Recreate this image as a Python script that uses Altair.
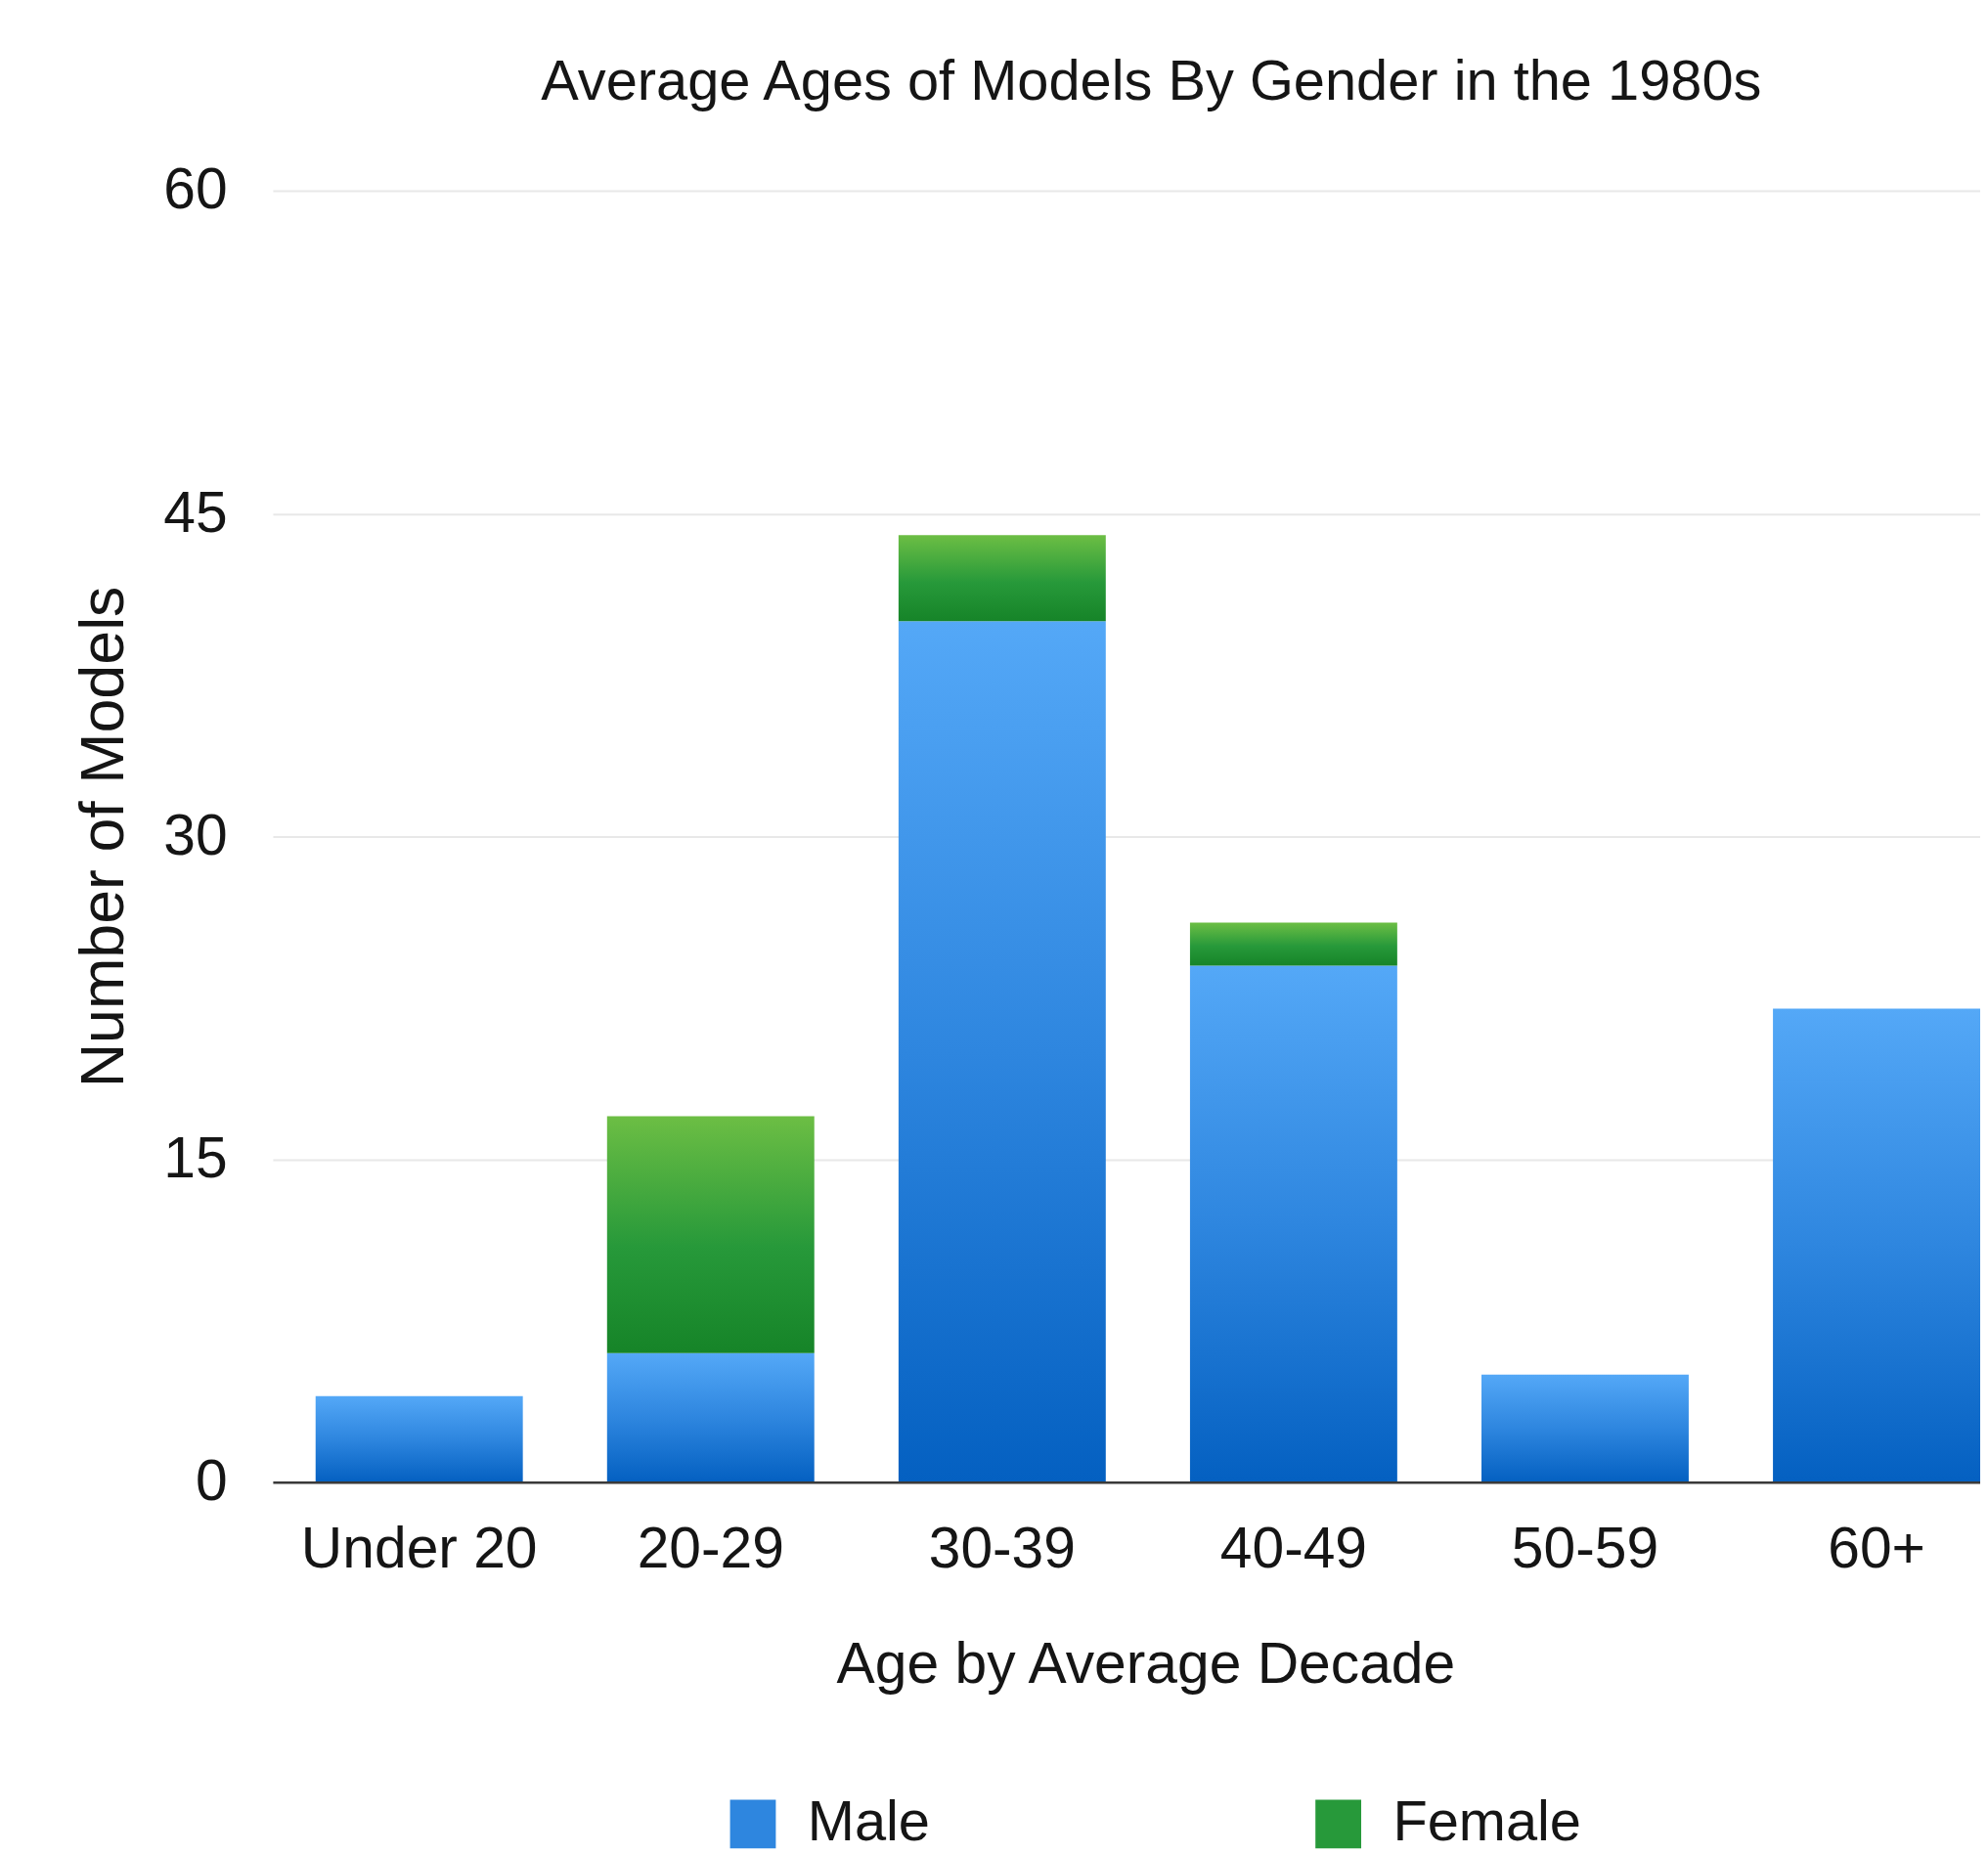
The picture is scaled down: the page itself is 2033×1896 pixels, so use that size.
import altair as alt
import pandas as pd

categories = ["Under 20", "20-29", "30-39", "40-49", "50-59", "60+"]
male = [4, 6, 40, 24, 5, 22]
female = [0, 11, 4, 2, 0, 0]
genders = ["Male", "Female"]
y_ticks = [0, 15, 30, 45, 60]

rows = []
for c, m, f in zip(categories, male, female):
    rows.append({"age": c, "gender": "Male", "start": 0, "end": m})
    rows.append({"age": c, "gender": "Female", "start": m, "end": m + f})
df = pd.DataFrame(rows)

FONT = "Liberation Sans"
TXT = "#151515"

blue_grad = {
    "gradient": "linear", "x1": 0, "x2": 0, "y1": 0, "y2": 1,
    "stops": [
        {"offset": 0, "color": "#54a8f7"},
        {"offset": 0.5, "color": "#2e86df"},
        {"offset": 1, "color": "#0460c1"},
    ],
}
green_grad = {
    "gradient": "linear", "x1": 0, "x2": 0, "y1": 0, "y2": 1,
    "stops": [
        {"offset": 0, "color": "#6cbe44"},
        {"offset": 0.55, "color": "#27993a"},
        {"offset": 1, "color": "#168428"},
    ],
}

x_enc = alt.X(
    "age:N", sort=categories,
    scale=alt.Scale(paddingInner=0.289, paddingOuter=0.0735, align=1),
    axis=alt.Axis(title="Age by Average Decade", labelAngle=0, labelPadding=40,
                  labelLimit=500, titlePadding=60, titleX=896, titleAlign="center",
                  domain=True, domainColor="#3a3a3a",
                  domainWidth=2.5, ticks=False, grid=False, zindex=1),
)
y_enc = alt.Y(
    "end:Q", scale=alt.Scale(domain=[0, 60], nice=False),
    axis=alt.Axis(title="Number of Models", values=y_ticks, labelPadding=47,
                  titlePadding=28, titleFontSize=63, domain=False, ticks=False,
                  grid=True, gridColor="#e8e8e8", gridWidth=2),
)

base = alt.Chart(df)

male_bars = base.transform_filter(alt.datum.gender == "Male").mark_bar(
    fill=blue_grad
).encode(x=x_enc, y=y_enc, y2="start:Q")

female_bars = base.transform_filter(
    (alt.datum.gender == "Female") & (alt.datum.end > alt.datum.start)
).mark_bar(fill=green_grad).encode(x=x_enc, y=y_enc, y2="start:Q")

legend_layer = base.mark_point(size=0, filled=True, opacity=1).encode(
    x=x_enc, y=y_enc,
    color=alt.Color(
        "gender:N",
        scale=alt.Scale(domain=genders, range=["#2e86df", "#27993a"]),
        legend=alt.Legend(
            title=None, orient="none", direction="horizontal",
            legendX=464, legendY=1648, padding=0,
            symbolType="M-0.94,-1H0.94V1H-0.94Z", symbolSize=2500,
            symbolStrokeWidth=0, symbolOpacity=1,
            labelFont=FONT, labelFontSize=58, labelColor=TXT,
            labelOffset=27, columnPadding=390, labelLimit=400,
        ),
    ),
)

chart = alt.layer(male_bars, female_bars, legend_layer).properties(
    width=1753, height=1326,
    title=alt.TitleParams(
        "Average Ages of Models By Gender in the 1980s",
        font=FONT, fontSize=58, fontWeight="normal", color=TXT,
        anchor="middle", frame="group", dx=25.5, offset=52,
    ),
    autosize=alt.AutoSizeParams(type="none"),
    padding={"left": 272, "top": 184, "right": 0, "bottom": 384},
).configure_axis(
    labelFont=FONT, labelFontSize=59, labelColor=TXT,
    titleFont=FONT, titleFontSize=59, titleColor=TXT, titleFontWeight="normal",
).configure_view(stroke=None)

chart.save("out.html", embed_options={"renderer": "svg", "actions": False})
